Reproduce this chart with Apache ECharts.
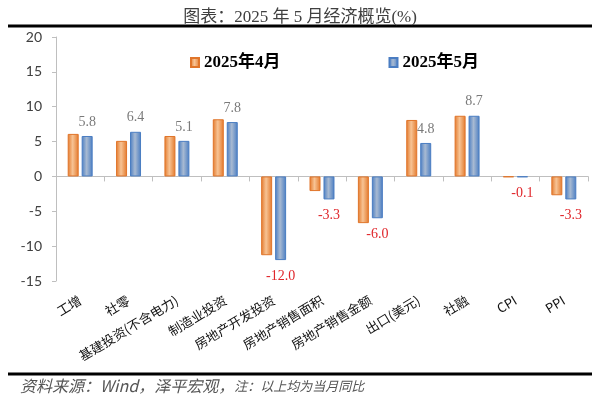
<!DOCTYPE html>
<html>
<head>
<meta charset="utf-8">
<script src="https://cdn.jsdelivr.net/npm/echarts@6/dist/echarts.min.js"></script>
<style>
  html, body { margin: 0; padding: 0; background: #fff; }
  #chart { width: 600px; height: 401px; }
</style>
</head>
<body>
<div id="chart"></div>
<script>
// 数据
var categories = ["工增", "社零", "基建投资(不含电力)", "制造业投资", "房地产开发投资",
  "房地产销售面积", "房地产销售金额", "出口(美元)", "社融", "CPI", "PPI"];
var april = [6.1, 5.1, 5.8, 8.2, -11.3, -2.1, -6.7, 8.1, 8.7, -0.1, -2.7];
var may = [5.8, 6.4, 5.1, 7.8, -12.0, -3.3, -6.0, 4.8, 8.7, -0.1, -3.3];
var yTicks = [-15, -10, -5, 0, 5, 10, 15, 20];

var chart = echarts.init(document.getElementById("chart"));

function grad(edge, mid) {
  return new echarts.graphic.LinearGradient(0, 0, 1, 0, [
    { offset: 0, color: edge },
    { offset: 0.45, color: mid },
    { offset: 1, color: edge }
  ]);
}
var orange = grad("#e3782a", "#f7c394");
var blue = grad("#4a7dc2", "#a8bad2");

// 5月数据带标签：正数灰色在上，负数红色在下
var mayData = may.map(function (v) {
  return {
    value: v,
    label: v < 0
      ? { position: "bottom", color: "#e0262b", distance: 9 }
      : { position: "top", color: "#7a7a7a", distance: 7 }
  };
});

chart.setOption({
  backgroundColor: "#ffffff",
  animation: false,
  title: {
    text: "图表：2025 年 5 月经济概览(%)",
    left: "center",
    top: 4,
    textStyle: {
      fontFamily: "Liberation Serif, Noto Sans CJK SC",
      fontWeight: "normal",
      fontSize: 17,
      color: "#404040"
    }
  },
  legend: {
    top: 49,
    left: 185,
    icon: "rect",
    itemWidth: 8,
    itemHeight: 9,
    itemGap: 108,
    data: ["2025年4月", "2025年5月"],
    textStyle: {
      fontFamily: "Liberation Serif, Noto Sans CJK SC",
      fontWeight: "bold",
      fontSize: 17,
      color: "#000"
    }
  },
  grid: {
    left: 56,
    right: 12,
    top: 37,
    bottom: 120,
    containLabel: false,
    outerBoundsMode: "none"
  },
  xAxis: [{
    type: "category",
    data: categories,
    boundaryGap: true,
    axisLine: { onZero: true, lineStyle: { color: "#bfbfbf", width: 1 } },
    axisTick: { show: true, length: 5, lineStyle: { color: "#bfbfbf" } },
    axisLabel: {
      interval: 0,
      rotate: 31,
      margin: 18,
      fontSize: 13,
      color: "#111",
      fontFamily: "Noto Sans CJK SC"
    }
  }],
  yAxis: [{
    type: "value",
    min: -15,
    max: 20,
    interval: 5,
    axisLine: { show: true, lineStyle: { color: "#bfbfbf" } },
    axisTick: { show: true, length: 4, lineStyle: { color: "#bfbfbf" } },
    splitLine: { show: false },
    axisLabel: {
      margin: 14,
      fontSize: 14,
      color: "#404040",
      fontFamily: "Lato, Open Sans, sans-serif",
      formatter: function (v) { return yTicks.indexOf(v) >= 0 ? String(v) : ""; }
    }
  }],
  series: [{
    name: "2025年4月",
    type: "bar",
    barWidth: 11,
    barGap: "27%",
    itemStyle: { color: orange, borderColor: "#e0752a", borderWidth: 1 },
    data: april
  }, {
    name: "2025年5月",
    type: "bar",
    barWidth: 11,
    itemStyle: { color: blue, borderColor: "#4a7dc2", borderWidth: 1 },
    label: {
      show: true,
      fontSize: 14,
      fontFamily: "Liberation Serif, serif",
      formatter: function (p) { return p.value.toFixed(1); }
    },
    data: mayData
  }],
  graphic: [{
    type: "line",
    shape: { x1: 8, y1: 26, x2: 592, y2: 26 },
    style: { stroke: "#000", lineWidth: 3 }
  }, {
    type: "line",
    shape: { x1: 8, y1: 374, x2: 592, y2: 374 },
    style: { stroke: "#000", lineWidth: 3 }
  }, {
    type: "text",
    left: 20,
    top: 378,
    style: {
      text: "{a|资料来源：Wind，泽平宏观，}{b|注：以上均为当月同比}",
      rich: {
        a: { fontSize: 16, fontStyle: "italic", fill: "#555", fontFamily: "Noto Sans CJK SC" },
        b: { fontSize: 13, fontStyle: "italic", fill: "#555", fontFamily: "Noto Sans CJK SC" }
      }
    }
  }]
});
</script>
</body>
</html>
